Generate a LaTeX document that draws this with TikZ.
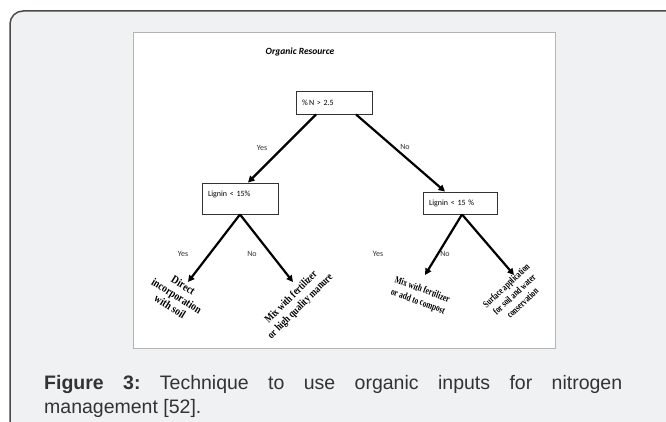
\documentclass[tikz,border=0pt]{standalone}
\usepackage{fontspec}
\setmainfont{Liberation Sans}
\newfontfamily\calfont{Carlito}
\newfontfamily\leaffont{Liberation Serif}
\usetikzlibrary{arrows.meta}
\definecolor{panel}{HTML}{F0F1F3}
\definecolor{panelborder}{HTML}{4A4A4A}
\definecolor{imgborder}{HTML}{B4B4B4}
\definecolor{captext}{HTML}{333333}
\frenchspacing
\begin{document}
\begin{tikzpicture}[x=1pt,y=-1pt,
  box/.style={draw=black!80, line width=0.9pt, fill=white, font=\calfont\fontsize{8}{9}\selectfont, align=left, inner xsep=6pt, inner ysep=0pt},
  lab/.style={font=\calfont\fontsize{8}{9}\selectfont, text=black!80, inner sep=0pt},
  leaf/.style={font=\leaffont\bfseries, align=center, inner sep=0pt},
  arr/.style={line width=2.2pt, -{Triangle[length=6.5pt,width=6.5pt]}},
  capt/.style={font=\fontsize{19.5}{23}\selectfont, text=captext, anchor=base west, inner sep=0pt}]
\useasboundingbox (0,0) rectangle (666,422);
\filldraw[fill=panel, draw=panelborder, line width=1.5pt, rounded corners=13pt] (10,11) rectangle (690,445);
\filldraw[fill=white, draw=imgborder, line width=0.8pt] (133,32) rectangle (555,348);
\node[font=\calfont\bfseries\itshape\fontsize{9.5}{11}\selectfont, inner sep=0pt] (title) at (300,52) {Organic Resource};
\node[box, minimum width=76pt, minimum height=23pt, text width=64pt] (root) at (334,102.5) {\%\,N > 2.5};
\node[box, minimum width=76pt, minimum height=31pt, text width=64pt, text depth=9pt] (l1) at (240,198.5) {Lignin < 15\%};
\node[box, minimum width=74pt, minimum height=22pt, text width=62pt] (r1) at (460,203) {Lignin < 15 \%};
\coordinate (lyes) at (188,282);
\coordinate (lno) at (293,282);
\coordinate (ryes) at (425,275);
\coordinate (rno) at (514,275);
\draw[arr] ([xshift=-18pt]root.south) -- ([xshift=8pt]l1.north);
\draw[arr] ([xshift=22pt]root.south) -- ([xshift=-15pt]r1.north);
\draw[arr] (l1.south) -- (lyes);
\draw[arr] (l1.south) -- (lno);
\draw[arr] ([xshift=2pt]r1.south) -- (ryes);
\draw[arr] ([xshift=2pt]r1.south) -- (rno);
\node[lab] (t1) at (262,148) {Yes};
\node[lab] (t2) at (405,147) {No};
\node[lab] (t3) at (183,254) {Yes};
\node[lab] (t4) at (252,254) {No};
\node[lab] (t5) at (378,254) {Yes};
\node[lab] (t6) at (445,254) {No};
\node[leaf, rotate=-32] (leafA) at (176,297) {\scalebox{0.84}[1]{\fontsize{11.5}{12.5}\selectfont\begin{tabular}{@{}c@{}}Direct\\incorporation\\with soil\end{tabular}}};
\node[leaf, rotate=45] (leafB) at (296,302) {\scalebox{0.8}[1]{\fontsize{11}{13}\selectfont\begin{tabular}{@{}c@{}}Mix with fertilizer\\or high quality manure\end{tabular}}};
\node[leaf, rotate=-20] (leafC) at (420,296) {\scalebox{0.74}[1]{\fontsize{10}{12.5}\selectfont\begin{tabular}{@{}c@{}}Mix with fertilizer\\or add to compost\end{tabular}}};
\node[leaf, rotate=43] (leafD) at (515,295) {\scalebox{0.72}[1]{\fontsize{10}{12}\selectfont\begin{tabular}{@{}c@{}}Surface application\\for soil and water\\conservation\end{tabular}}};
\node[capt] (cap1) at (44,389) {\makebox[578pt][s]{\textbf{Figure 3:} Technique to use organic inputs for nitrogen}};
\node[capt] (cap2) at (44,413) {management [52].};
\end{tikzpicture}
\end{document}
